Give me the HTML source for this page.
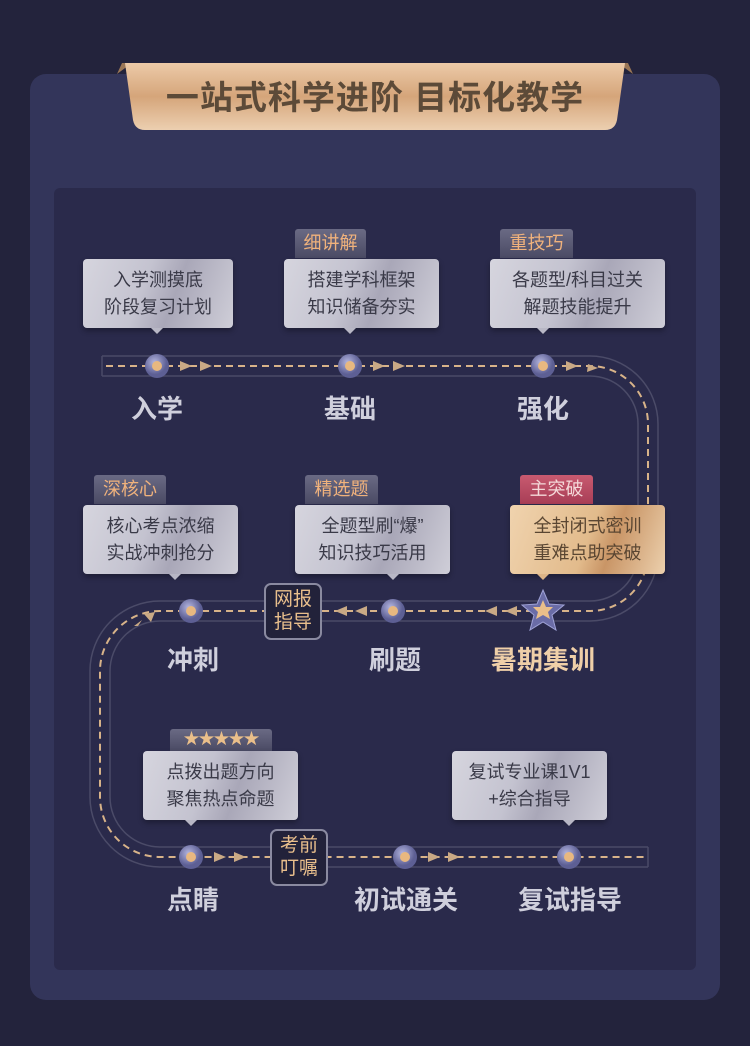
<!DOCTYPE html><html><head><meta charset="utf-8"><style>
body{margin:0;width:750px;height:1046px;background:#23233c;position:relative;overflow:hidden;font-family:"Liberation Sans","Noto Sans CJK SC",sans-serif}
.a{position:absolute}
.card{left:30px;top:74px;width:690px;height:926px;background:#33355a;border-radius:16px}
.panel{left:54px;top:188px;width:642px;height:782px;background:#2a2a4b;border-radius:6px}
.box{position:absolute;background:linear-gradient(110deg,#d6d5de,#c4c3d0 40%,#a9a7b8 60%,#cfced8);border-radius:4px;color:#3a3a48;font-size:18px;line-height:27px;text-align:center;padding-top:8px;box-sizing:border-box;box-shadow:0 3px 6px rgba(0,0,0,.3)}
.box:after{content:"";position:absolute;left:var(--p);bottom:-6px;margin-left:-6px;border:6px solid transparent;border-bottom:0;border-top-color:#b8b7c5}
.gold{background:linear-gradient(110deg,#f0d3ae,#e2bb8c 50%,#c99566 65%,#ecd0ad);color:#5a4632}
.gold:after{border-top-color:#dcb487}
.tag{position:absolute;height:29px;background:linear-gradient(#6a6a84,#4a4a64);color:#f0b27c;font-size:18px;line-height:29px;text-align:center;border-radius:3px 3px 0 0}
.lbl{position:absolute;font-size:26px;font-weight:bold;color:#cfcfdc;text-align:center;width:160px;margin-left:-80px}
.sq{position:absolute;border:2px solid #8a8aa0;border-radius:7px;background:#22223a;color:#e9bf8c;font-size:19px;line-height:23px;text-align:center;box-sizing:border-box;padding-top:3px}
</style></head><body>
<div class="a card"></div>
<div class="a panel"></div>
<svg class="a" style="left:0;top:0" width="750" height="1046">
<defs><linearGradient id="bn" x1="0" y1="0" x2="0" y2="1"><stop offset="0" stop-color="#eccaa8"/><stop offset=".5" stop-color="#d5a57a"/><stop offset="1" stop-color="#eccfb0"/></linearGradient>
<radialGradient id="nd" cx=".4" cy=".35"><stop offset="0" stop-color="#b4b6e0"/><stop offset="1" stop-color="#5d5f94"/></radialGradient></defs>
<polygon points="117,74 122,63 132,63" fill="#9a7656"/><polygon points="633,74 628,63 618,63" fill="#9a7656"/>
<path d="M125,63 H625 L617,120 Q615,130 605,130 H145 Q135,130 133,120 Z" fill="url(#bn)"/>
<text x="375" y="109" text-anchor="middle" font-size="33" font-weight="bold" fill="#5c4a38" font-family="Liberation Sans,Noto Sans CJK SC,sans-serif" letter-spacing="1">一站式科学进阶 目标化教学</text>
<g fill="none" stroke="#4b4b68" stroke-width="1.5">
<path d="M102,356 H590 A68,68 0 0 1 658,424 V553 A68,68 0 0 1 590,621 H160 A50,50 0 0 0 110,671 V797 A50,50 0 0 0 160,847 H648"/>
<path d="M102,376 H590 A48,48 0 0 1 638,424 V553 A48,48 0 0 1 590,601 H160 A70,70 0 0 0 90,671 V797 A70,70 0 0 0 160,867 H648"/>
<path d="M102,356 V376 M648,847 V867"/></g>
<path d="M106,366 H590 A58,58 0 0 1 648,424 V553 A58,58 0 0 1 590,611 H160 A60,60 0 0 0 100,671 V797 A60,60 0 0 0 160,857 H646" fill="none" stroke="#d8b389" stroke-width="2" stroke-dasharray="7,5"/>
<g fill="#c9a985">
<path d="M180,361 l12,5 -12,5z M200,361 l12,5 -12,5z M373,361 l12,5 -12,5z M393,361 l12,5 -12,5z M566,361 l12,5 -12,5z M588,364 l10,4 -11,4z"/>
<path d="M517,606 l-12,5 12,5z M497,606 l-12,5 12,5z M367,606 l-12,5 12,5z M347,606 l-12,5 12,5z M155,612 l-11,2 7,8z M142,620 l-8,6 4,0z"/>
<path d="M214,852 l12,5 -12,5z M234,852 l12,5 -12,5z M428,852 l12,5 -12,5z M448,852 l12,5 -12,5z"/></g>
<g>
<circle cx="157" cy="366" r="12" fill="url(#nd)"/><circle cx="157" cy="366" r="5" fill="#e8b880"/>
<circle cx="350" cy="366" r="12" fill="url(#nd)"/><circle cx="350" cy="366" r="5" fill="#e8b880"/>
<circle cx="543" cy="366" r="12" fill="url(#nd)"/><circle cx="543" cy="366" r="5" fill="#e8b880"/>
<circle cx="191" cy="611" r="12" fill="url(#nd)"/><circle cx="191" cy="611" r="5" fill="#e8b880"/>
<circle cx="393" cy="611" r="12" fill="url(#nd)"/><circle cx="393" cy="611" r="5" fill="#e8b880"/>
<circle cx="191" cy="857" r="12" fill="url(#nd)"/><circle cx="191" cy="857" r="5" fill="#e8b880"/>
<circle cx="405" cy="857" r="12" fill="url(#nd)"/><circle cx="405" cy="857" r="5" fill="#e8b880"/>
<circle cx="569" cy="857" r="12" fill="url(#nd)"/><circle cx="569" cy="857" r="5" fill="#e8b880"/>
<polygon points="543,590 549,604 564,605 552,615 556,630 543,622 530,630 534,615 522,605 537,604" fill="#6a6ca6" stroke="#9fa2d6"/>
<polygon points="543,600 546,607 553,607 548,612 550,619 543,615 536,619 538,612 533,607 540,607" fill="#eabf8a"/>
</g>
</svg>
<div class="tag" style="left:295px;top:229px;width:71px">细讲解</div>
<div class="tag" style="left:500px;top:229px;width:73px">重技巧</div>
<div class="tag" style="left:94px;top:475px;width:72px">深核心</div>
<div class="tag" style="left:305px;top:475px;width:73px">精选题</div>
<div class="tag" style="left:520px;top:475px;width:73px;background:linear-gradient(#c85a70,#a83e56);color:#f4d8d8">主突破</div>
<div class="tag" style="left:170px;top:729px;width:102px;height:22px;line-height:22px;color:#eabf8a;font-size:16px;letter-spacing:-1px">★★★★★</div>
<div class="box" style="left:83px;top:259px;width:150px;height:69px;--p:74px">入学测摸底<br>阶段复习计划</div>
<div class="box" style="left:284px;top:259px;width:155px;height:69px;--p:66px">搭建学科框架<br>知识储备夯实</div>
<div class="box" style="left:490px;top:259px;width:175px;height:69px;--p:53px">各题型/科目过关<br>解题技能提升</div>
<div class="box" style="left:83px;top:505px;width:155px;height:69px;--p:92px">核心考点浓缩<br>实战冲刺抢分</div>
<div class="box" style="left:295px;top:505px;width:155px;height:69px;--p:98px">全题型刷“爆”<br>知识技巧活用</div>
<div class="box gold" style="left:510px;top:505px;width:155px;height:69px;--p:33px">全封闭式密训<br>重难点助突破</div>
<div class="box" style="left:143px;top:751px;width:155px;height:69px;--p:48px">点拨出题方向<br>聚焦热点命题</div>
<div class="box" style="left:452px;top:751px;width:155px;height:69px;--p:117px">复试专业课1V1<br>+综合指导</div>
<div class="sq" style="left:264px;top:583px;width:58px;height:57px">网报<br>指导</div>
<div class="sq" style="left:270px;top:829px;width:58px;height:57px">考前<br>叮嘱</div>
<div class="lbl" style="left:157px;top:389px">入学</div>
<div class="lbl" style="left:350px;top:389px">基础</div>
<div class="lbl" style="left:543px;top:389px">强化</div>
<div class="lbl" style="left:193px;top:640px">冲刺</div>
<div class="lbl" style="left:395px;top:640px">刷题</div>
<div class="lbl" style="left:543px;top:640px;color:#efcfa8">暑期集训</div>
<div class="lbl" style="left:193px;top:880px">点睛</div>
<div class="lbl" style="left:406px;top:880px">初试通关</div>
<div class="lbl" style="left:570px;top:880px">复试指导</div>
</body></html>
